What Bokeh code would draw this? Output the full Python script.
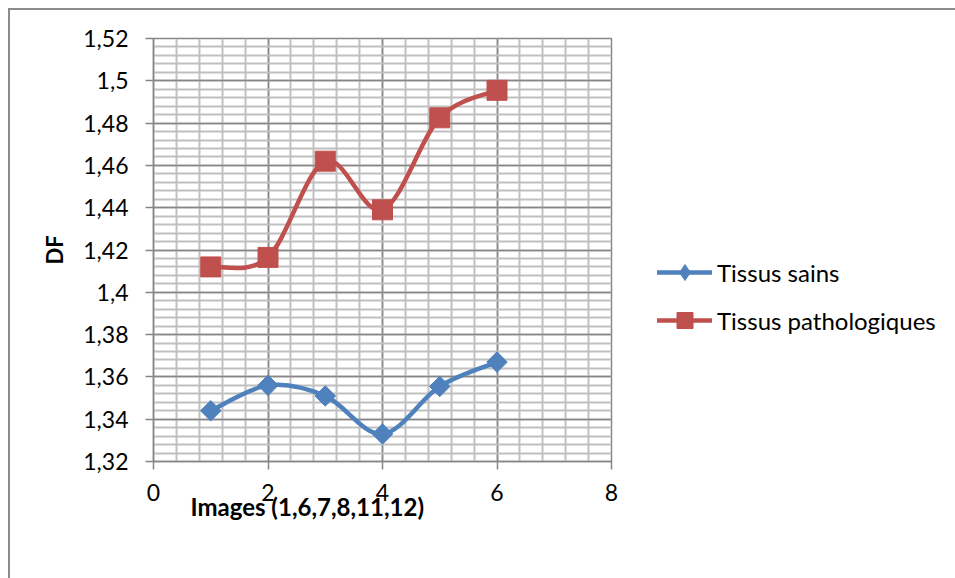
import numpy as np
from bokeh.plotting import figure
from bokeh.models import (Range1d, FixedTicker, Legend, LegendItem, Title,
                          ColumnDataSource)
from bokeh.embed import file_html
from bokeh.resources import INLINE

# ---- data ----
images = [1, 2, 3, 4, 5, 6]
tissus_sains = [1.344, 1.356, 1.351, 1.333, 1.3555, 1.367]
tissus_patho = [1.412, 1.4165, 1.462, 1.439, 1.4825, 1.4955]
series_names = ["Tissus sains", "Tissus pathologiques"]
x_ticks = [0, 2, 4, 6, 8]
y_ticks = [1.32, 1.34, 1.36, 1.38, 1.4, 1.42, 1.44, 1.46, 1.48, 1.5, 1.52]
y_tick_labels = ["1,32", "1,34", "1,36", "1,38", "1,4", "1,42", "1,44",
                 "1,46", "1,48", "1,5", "1,52"]
x_title = "Images (1,6,7,8,11,12)"
y_title = "DF"

BLUE = "#4F81BD"
RED = "#C0504D"
FONT = "Lato"

p = figure(frame_width=458, frame_height=423, output_backend="svg",
           toolbar_location=None,
           x_range=Range1d(0, 8), y_range=Range1d(1.32, 1.52),
           min_border_left=143, min_border_right=344,
           min_border_top=28, min_border_bottom=117,
           background_fill_color="white", border_fill_color="white")
p.margin = (8, 0, 0, 8)
p.styles = {"border-left": "2px solid #8c8c8c", "border-top": "2px solid #8c8c8c"}

x_minor = list(np.arange(0, 8.0001, 0.4))
y_minor = list(np.round(np.arange(1.32, 1.52001, 0.004), 4))
p.xaxis.ticker = FixedTicker(ticks=x_ticks, minor_ticks=x_minor)
p.yaxis.ticker = FixedTicker(ticks=y_ticks, minor_ticks=y_minor)
p.yaxis.major_label_overrides = {t: l for t, l in zip(y_ticks, y_tick_labels)}

for g in (p.xgrid, p.ygrid):
    g.grid_line_color = "#878787"
    g.grid_line_width = 1.5
    g.minor_grid_line_color = "#c0c0c0"
    g.minor_grid_line_width = 2
p.outline_line_color = "#878787"
p.outline_line_width = 1.5

for ax in (p.xaxis, p.yaxis):
    ax.axis_line_color = "#868686"
    ax.axis_line_width = 1.5
    ax.major_tick_line_color = "#868686"
    ax.major_tick_line_width = 1.5
    ax.major_tick_out = 8
    ax.major_tick_in = 0
    ax.minor_tick_line_color = None
    ax.major_label_text_font = FONT
    ax.major_label_text_font_size = "23px"
    ax.major_label_text_color = "black"
p.xaxis.major_label_standoff = 14
p.yaxis.major_label_standoff = 17

p.yaxis.axis_label = y_title
p.yaxis.axis_label_text_font = FONT
p.yaxis.axis_label_text_font_size = "22px"
p.yaxis.axis_label_text_font_style = "bold"
p.yaxis.axis_label_text_color = "black"
p.yaxis.axis_label_standoff = 12


def smooth_controls(xs, ys):
    xs = np.asarray(xs, float)
    ys = np.asarray(ys, float)
    n = len(xs)
    x0, y0, x1, y1, cx0, cy0, cx1, cy1 = ([] for _ in range(8))
    for i in range(n - 1):
        pxm, pym = (xs[i - 1], ys[i - 1]) if i > 0 else (xs[i], ys[i])
        pxn, pyn = (xs[i + 2], ys[i + 2]) if i + 2 < n else (xs[i + 1], ys[i + 1])
        x0.append(xs[i]); y0.append(ys[i])
        x1.append(xs[i + 1]); y1.append(ys[i + 1])
        cx0.append(xs[i] + (xs[i + 1] - pxm) / 6)
        cy0.append(ys[i] + (ys[i + 1] - pym) / 6)
        cx1.append(xs[i + 1] - (pxn - xs[i]) / 6)
        cy1.append(ys[i + 1] - (pyn - ys[i]) / 6)
    return ColumnDataSource(dict(x0=x0, y0=y0, x1=x1, y1=y1,
                                 cx0=cx0, cy0=cy0, cx1=cx1, cy1=cy1))


items = []
for ys, color, size, angle, leg_marker, name in [
        (tissus_sains, BLUE, 14.5, np.pi / 4, "diamond", series_names[0]),
        (tissus_patho, RED, 20, 0, "square", series_names[1])]:
    src = smooth_controls(images, ys)
    rb = p.bezier(x0="x0", y0="y0", x1="x1", y1="y1", cx0="cx0", cy0="cy0",
                  cx1="cx1", cy1="cy1", source=src, line_color=color,
                  line_width=4.5, line_cap="round")
    # marker shape used for the legend swatch (covered by the main markers)
    rl = p.scatter(images, ys, marker=leg_marker, size=8, fill_color=color,
                   line_color=color, line_width=1)
    rs = p.scatter(images, ys, marker="square", size=size, angle=angle,
                   fill_color=color, line_color=color, line_width=1)
    items.append(LegendItem(label=name, renderers=[rb, rl]))

legend = Legend(items=items, location=(46, 121), padding=0, margin=0,
                glyph_width=55, glyph_height=40, spacing=8, label_standoff=5,
                label_text_font=FONT, label_text_font_size="24px",
                label_text_color="black", border_line_color=None,
                background_fill_alpha=0)
p.add_layout(legend, "right")

p.add_layout(Title(text=x_title, align="left", offset=37, standoff=-27,
                   text_font=FONT, text_font_size="24px",
                   text_font_style="bold", text_color="black"), "below")

open("out.html", "w").write(file_html(p, INLINE))
